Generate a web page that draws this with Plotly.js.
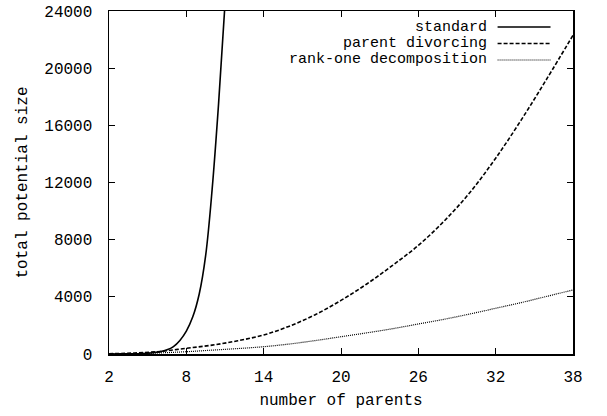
<!DOCTYPE html>
<html>
<head>
<meta charset="utf-8">
<script src="https://cdn.plot.ly/plotly-3.0.1.min.js"></script>
<style>html,body{margin:0;padding:0;background:#fff;}#chart{width:607px;height:416px;}</style>
</head>
<body>
<div id="chart"></div>
<script>
// ---- data ----
const seriesNames = ["standard", "parent divorcing", "rank-one decomposition"];

const standardX = [2, 3, 4, 5, 6, 6.5, 7, 7.5, 8, 8.5, 9, 9.5, 10, 10.5, 11];
const standardY = [2, 6, 18, 55, 165, 290, 520, 950, 1600, 2600, 4200, 6900, 11500, 17500, 24500];

const divorcingX = [2, 4, 6, 8, 10, 12, 14, 16, 18, 20, 22, 24, 26, 28, 30, 32, 34, 36, 38];
const divorcingY = [20, 70, 180, 400, 620, 930, 1330, 1950, 2750, 3750, 4900, 6200, 7600, 9300, 11300, 13700, 16400, 19300, 22300];

const rankOneX = [2, 4, 6, 8, 10, 12, 14, 16, 18, 20, 22, 24, 26, 28, 30, 32, 34, 36, 38];
const rankOneY = [10, 30, 80, 160, 270, 380, 510, 700, 940, 1210, 1480, 1770, 2100, 2430, 2800, 3200, 3600, 4040, 4480];

const xTicks = [2, 8, 14, 20, 26, 32, 38];
const yTicks = [0, 4000, 8000, 12000, 16000, 20000, 24000];

// ---- styles ----
const FONT = "Liberation Mono, DejaVu Sans Mono, monospace";
const styles = [
  {color: "#000", width: 1.6, dash: "solid"},
  {color: "#000", width: 1.6, dash: "4px,2px"},
  {color: "#000", width: 1.2, dash: "1px,1px"}
];

const traces = [
  {x: standardX, y: standardY},
  {x: divorcingX, y: divorcingY},
  {x: rankOneX, y: rankOneY}
].map((d, i) => ({
  x: d.x, y: d.y, name: seriesNames[i], type: "scatter", mode: "lines",
  line: Object.assign({shape: "spline", smoothing: 1}, styles[i]),
  cliponaxis: true, hoverinfo: "skip"
}));

// legend drawn gnuplot-style: text right-aligned, sample line to its right
const PL = 109, PR = 573.5, PT = 11, PB = 354;
const px = v => (v - PL) / (PR - PL);
const py = v => 1 - (v - PT) / (PB - PT);
const legendTop = 27, legendStep = 16.5;
const annotations = [];
const shapes = [];
seriesNames.forEach((n, i) => {
  const y = legendTop + i * legendStep;
  annotations.push({
    xref: "paper", yref: "paper",
    x: px(488), y: py(y),
    xanchor: "right", yanchor: "middle", showarrow: false, borderpad: 0,
    text: n, font: {family: FONT, size: 15, color: "#000"}
  });
  shapes.push({
    type: "line", xref: "paper", yref: "paper",
    x0: px(498), x1: px(551), y0: py(y), y1: py(y),
    line: {color: "#000", width: styles[i].width, dash: styles[i].dash}
  });
});

const layout = {
  width: 607, height: 416,
  margin: {l: PL, r: 607 - PR, t: PT, b: 416 - PB, pad: 0},
  paper_bgcolor: "#fff", plot_bgcolor: "#fff",
  showlegend: false,
  font: {family: FONT, size: 16, color: "#000"},
  xaxis: {
    range: [2, 38], tickvals: xTicks, ticktext: xTicks.map(String),
    ticks: "inside", ticklen: 6, tickwidth: 1, tickcolor: "#000",
    showline: true, linecolor: "#000", linewidth: 1.5, mirror: "ticks",
    showgrid: false, zeroline: false, ticklabelstandoff: 7,
    tickfont: {family: FONT, size: 16, color: "#000"},
    title: {text: "number of parents", font: {family: FONT, size: 16, color: "#000"}, standoff: 8},
    automargin: false, fixedrange: true
  },
  yaxis: {
    range: [0, 24000], tickvals: yTicks, ticktext: yTicks.map(String),
    ticks: "inside", ticklen: 6, tickwidth: 1, tickcolor: "#000",
    showline: true, linecolor: "#000", linewidth: 1.5, mirror: "ticks",
    showgrid: false, zeroline: false, ticklabelstandoff: 12,
    tickfont: {family: FONT, size: 16, color: "#000"},
    title: {text: "total potential size", font: {family: FONT, size: 16, color: "#000"}, standoff: 12},
    automargin: false, fixedrange: true
  },
  annotations: annotations,
  shapes: shapes
};

Plotly.newPlot("chart", traces, layout, {staticPlot: true, displayModeBar: false});
</script>
</body>
</html>
